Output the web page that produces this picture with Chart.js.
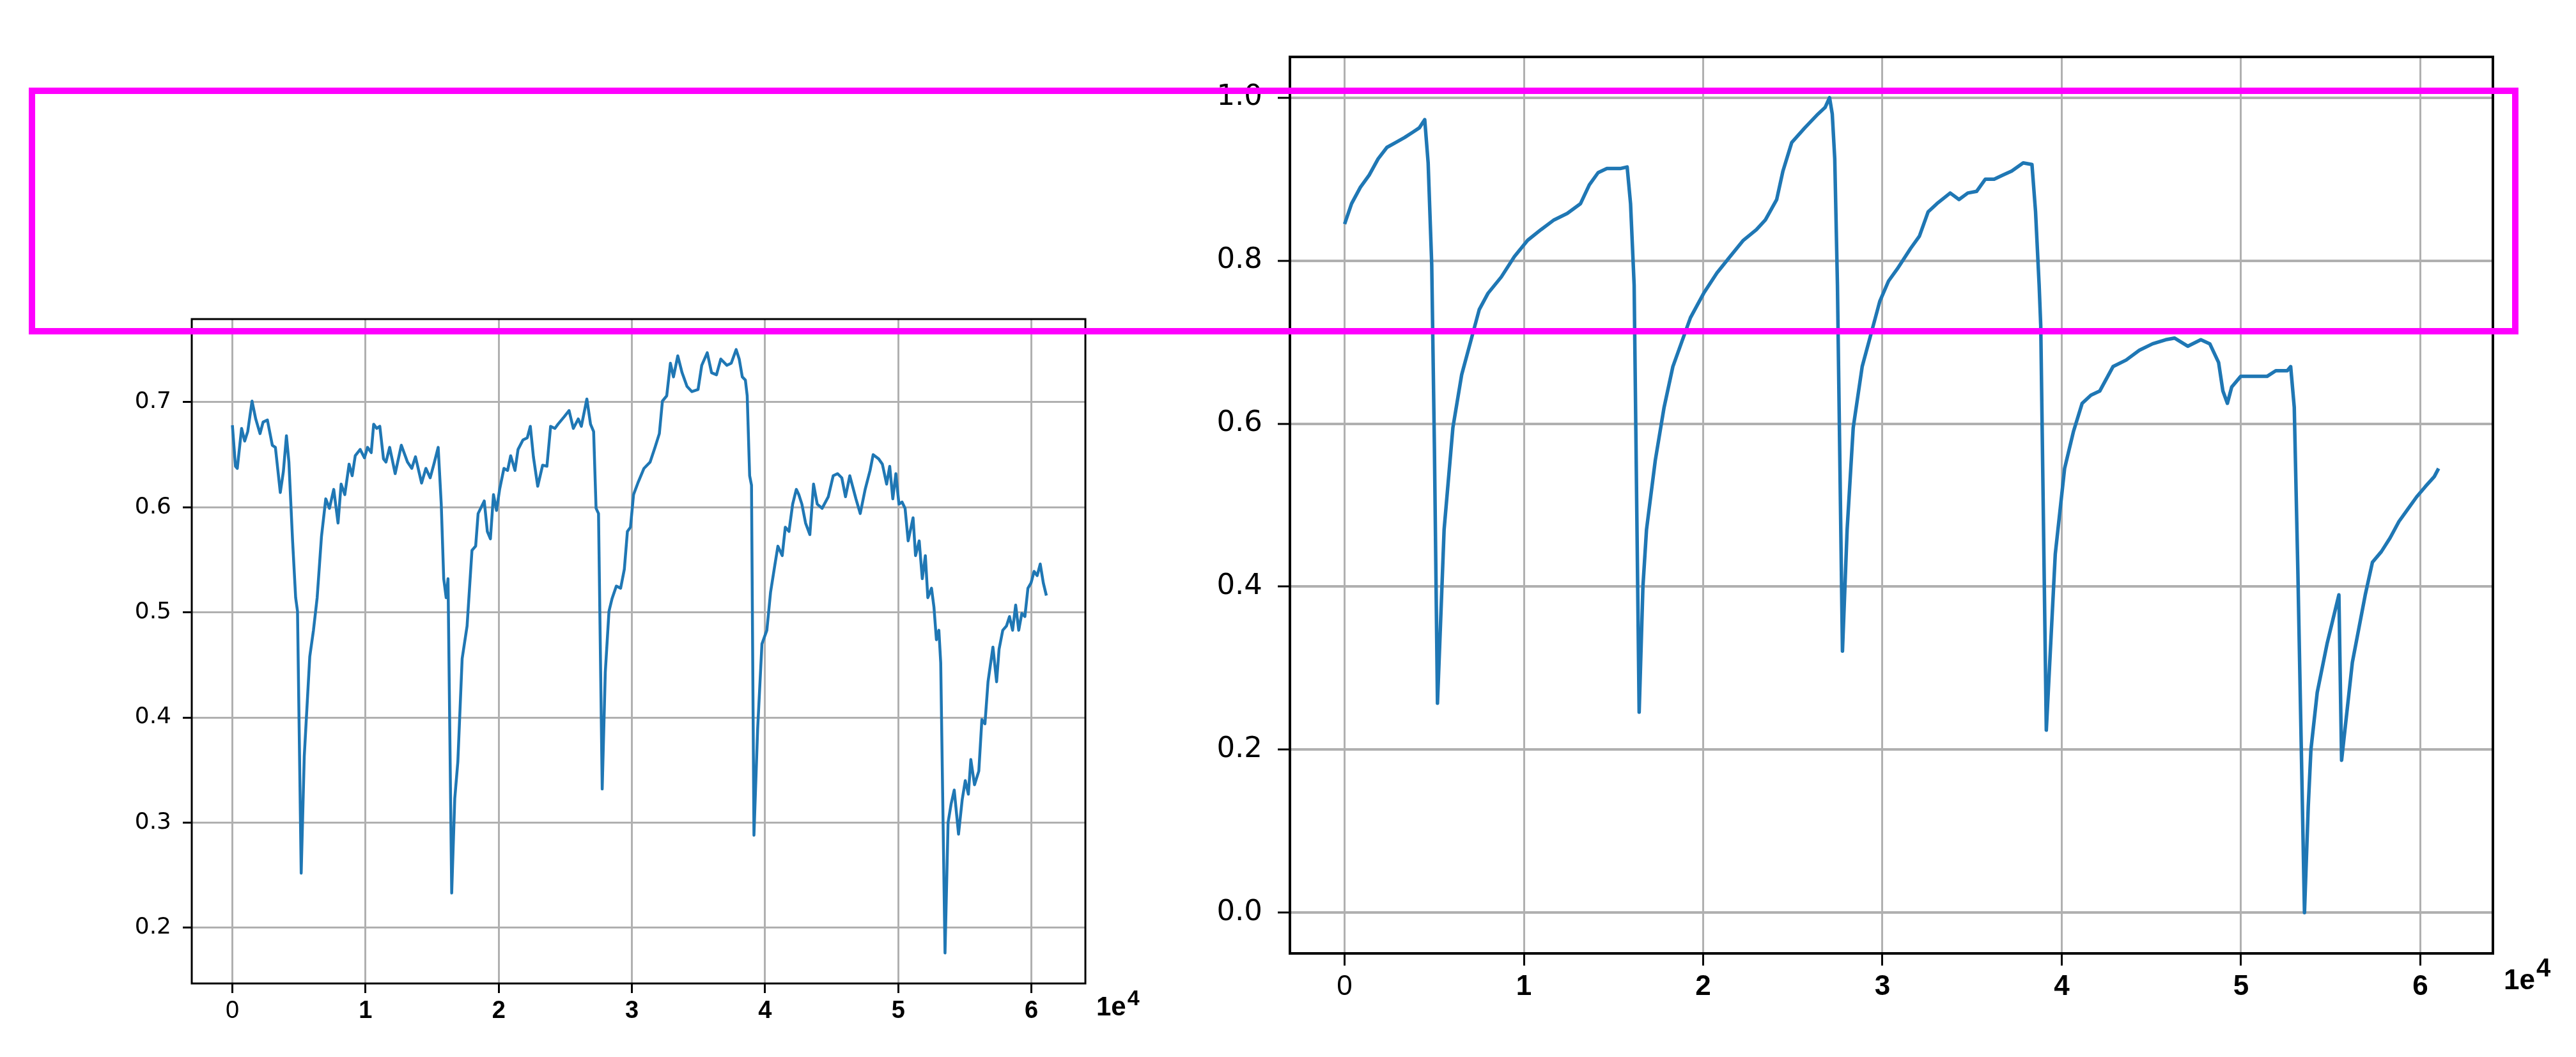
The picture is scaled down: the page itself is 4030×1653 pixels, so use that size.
<!DOCTYPE html>
<html>
<head>
<meta charset="utf-8">
<script src="https://cdn.jsdelivr.net/npm/chart.js@4.4.0/dist/chart.umd.min.js"></script>
<style>
  html, body { margin: 0; padding: 0; background: #fff; }
  body { width: 4030px; height: 1653px; position: relative; overflow: hidden; }
  .panel { position: absolute; }
  #left-wrap { left: 0; top: 440px; width: 1900px; height: 1213px; }
  #right-wrap { left: 1900px; top: 0; width: 2130px; height: 1653px; }
  #highlight { position: absolute; left: 45px; top: 137px; width: 3875px; height: 366px; border: 10px solid #ff00ff; z-index: 5; }
</style>
</head>
<body>
<div class="panel" id="left-wrap"><canvas id="leftChart" width="1900" height="1213"></canvas></div>
<div class="panel" id="right-wrap"><canvas id="rightChart" width="2130" height="1653"></canvas></div>
<div id="highlight"></div>
<script>
// x ticks shared by both panels (shown in units of 1e4)
const xTicks = [0, 10000, 20000, 30000, 40000, 50000, 60000];
const leftYTicks = [0.2, 0.3, 0.4, 0.5, 0.6, 0.7];
const rightYTicks = [0.0, 0.2, 0.4, 0.6, 0.8, 1.0];

// left panel: noisy series
const leftX = [
  0, 231, 369, 692, 923, 1153, 1476, 1753, 2076, 2306,
  2629, 2998, 3229, 3598, 3829, 4059, 4244, 4521, 4751, 4890,
  5167, 5397, 5812, 6089, 6366, 6689, 7012, 7289, 7611, 7934,
  8165, 8442, 8765, 8995, 9226, 9595, 9918, 10149, 10425, 10610,
  10841, 11071, 11348, 11533, 11809, 12224, 12686, 13147, 13470, 13747,
  14208, 14531, 14854, 15131, 15454, 15684, 15869, 16053, 16192, 16468,
  16699, 16930, 17253, 17622, 17991, 18267, 18452, 18913, 19144, 19375,
  19605, 19836, 20067, 20390, 20666, 20897, 21220, 21450, 21819, 22142,
  22373, 22604, 22927, 23296, 23619, 23895, 24218, 24449, 24910, 25279,
  25602, 25971, 26202, 26617, 26894, 27125, 27309, 27493, 27770, 28001,
  28278, 28508, 28831, 29154, 29431, 29662, 29892, 30123, 30446, 30907,
  31368, 31737, 32060, 32291, 32614, 32891, 33122, 33444, 33767, 34136,
  34505, 34967, 35243, 35658, 35981, 36350, 36673, 37135, 37458, 37827,
  38057, 38288, 38519, 38657, 38841, 38980, 39164, 39441, 39764, 40133,
  40410, 40733, 40963, 41286, 41517, 41794, 42071, 42347, 42532, 42763,
  43039, 43362, 43639, 43916, 44285, 44746, 45115, 45438, 45761, 46038,
  46361, 46822, 47145, 47514, 47883, 48114, 48529, 48806, 49128, 49359,
  49590, 49820, 50051, 50282, 50512, 50743, 51112, 51297, 51573, 51804,
  52035, 52219, 52496, 52680, 52865, 53050, 53188, 53511, 53741, 53972,
  54203, 54526, 54803, 55033, 55264, 55449, 55725, 56048, 56279, 56509,
  56740, 57109, 57385, 57570, 57847, 58124, 58354, 58585, 58816, 59046,
  59277, 59508, 59738, 59969, 60200, 60430, 60661, 60892, 61122
];
const leftY = [
  0.678, 0.639, 0.637, 0.675, 0.663, 0.672, 0.701, 0.684, 0.670, 0.681,
  0.683, 0.659, 0.657, 0.614, 0.634, 0.668, 0.643, 0.568, 0.514, 0.501,
  0.252, 0.363, 0.458, 0.483, 0.514, 0.572, 0.608, 0.599, 0.617, 0.585,
  0.622, 0.612, 0.641, 0.630, 0.649, 0.655, 0.647, 0.657, 0.652, 0.679,
  0.675, 0.677, 0.646, 0.643, 0.657, 0.632, 0.659, 0.643, 0.637, 0.648,
  0.623, 0.637, 0.628, 0.641, 0.657, 0.603, 0.532, 0.514, 0.532, 0.233,
  0.323, 0.358, 0.456, 0.487, 0.559, 0.563, 0.594, 0.606, 0.577, 0.570,
  0.612, 0.597, 0.617, 0.637, 0.635, 0.649, 0.635, 0.655, 0.664, 0.666,
  0.677, 0.648, 0.620, 0.640, 0.639, 0.677, 0.675, 0.679, 0.686, 0.692,
  0.675, 0.684, 0.677, 0.703, 0.679, 0.672, 0.599, 0.594, 0.332, 0.443,
  0.501, 0.513, 0.525, 0.523, 0.541, 0.577, 0.581, 0.612, 0.623, 0.637,
  0.643, 0.657, 0.670, 0.701, 0.706, 0.737, 0.724, 0.744, 0.728, 0.715,
  0.710, 0.712, 0.735, 0.747, 0.728, 0.726, 0.741, 0.735, 0.737, 0.750,
  0.741, 0.724, 0.721, 0.706, 0.630, 0.621, 0.288, 0.389, 0.470, 0.483,
  0.519, 0.545, 0.563, 0.554, 0.581, 0.577, 0.603, 0.617, 0.612, 0.603,
  0.585, 0.574, 0.622, 0.603, 0.599, 0.610, 0.630, 0.632, 0.628, 0.610,
  0.630, 0.608, 0.594, 0.617, 0.635, 0.650, 0.646, 0.641, 0.622, 0.639,
  0.608, 0.632, 0.603, 0.605, 0.599, 0.568, 0.590, 0.554, 0.568, 0.532,
  0.554, 0.514, 0.523, 0.505, 0.474, 0.483, 0.452, 0.176, 0.300, 0.318,
  0.331, 0.289, 0.322, 0.340, 0.327, 0.360, 0.336, 0.349, 0.398, 0.394,
  0.434, 0.467, 0.434, 0.465, 0.483, 0.487, 0.496, 0.483, 0.507, 0.483,
  0.499, 0.496, 0.523, 0.528, 0.539, 0.535, 0.546, 0.528, 0.516
];

// right panel: normalised sawtooth series
const rightX = [
  0, 390, 880, 1370, 1870, 2360, 2850, 3340, 3830, 4170,
  4470, 4660, 4860, 5010, 5180, 5430, 5550, 6040, 6530, 7020,
  7510, 8000, 8740, 9470, 10210, 10950, 11680, 12420, 13160, 13650,
  14140, 14630, 15370, 15760, 15950, 16150, 16430, 16640, 16840, 17330,
  17820, 18310, 18800, 19290, 20030, 20770, 21500, 22240, 22970, 23470,
  24100, 24450, 24940, 25670, 26410, 26800, 27050, 27200, 27340, 27490,
  27770, 28030, 28370, 28870, 29360, 29850, 30340, 30830, 31570, 32060,
  32550, 33040, 33780, 34270, 34760, 35250, 35740, 36230, 36720, 37210,
  37850, 38340, 38540, 38740, 38830, 39140, 39640, 40160, 40650, 41140,
  41630, 42120, 42860, 43590, 44330, 45070, 45800, 46290, 47030, 47760,
  48260, 48750, 48990, 49240, 49480, 49980, 50710, 51450, 51940, 52580,
  52770, 52970, 53170, 53540, 53750, 53900, 54250, 54800, 55460, 55610,
  56210, 56930, 57330, 57830, 58320, 58810, 59300, 59790, 60290, 60780,
  61020
];
const rightY = [
  0.845, 0.870, 0.890, 0.905, 0.925, 0.939, 0.945, 0.951, 0.958, 0.963,
  0.973, 0.920, 0.795, 0.570, 0.257, 0.400, 0.470, 0.595, 0.660, 0.700,
  0.740, 0.760, 0.780, 0.805, 0.825, 0.838, 0.850, 0.858, 0.870, 0.893,
  0.908, 0.913, 0.913, 0.915, 0.870, 0.770, 0.246, 0.400, 0.470, 0.555,
  0.620, 0.670, 0.700, 0.730, 0.760, 0.785, 0.805, 0.825, 0.838, 0.850,
  0.875, 0.910, 0.945, 0.963, 0.980, 0.988, 1.000, 0.980, 0.925, 0.770,
  0.321, 0.470, 0.595, 0.670, 0.710, 0.750, 0.775, 0.790, 0.815, 0.830,
  0.860, 0.870, 0.883, 0.875, 0.883, 0.885, 0.900, 0.900, 0.905, 0.910,
  0.920, 0.918, 0.860, 0.770, 0.720, 0.224, 0.440, 0.545, 0.590, 0.625,
  0.635, 0.640, 0.670, 0.678, 0.690, 0.698, 0.703, 0.705, 0.695, 0.703,
  0.698, 0.675, 0.640, 0.625, 0.645, 0.658, 0.658, 0.658, 0.665, 0.665,
  0.670, 0.620, 0.420, 0.000, 0.130, 0.200, 0.270, 0.330, 0.390, 0.187,
  0.307, 0.390, 0.430, 0.443, 0.460, 0.480, 0.495, 0.510, 0.523, 0.535,
  0.545
];

const X_MIN = -3050, X_MAX = 64050;
const LINE_COLOR = "#1f77b4";
const GRID_COLOR = "#b0b0b0";

// frame around the plot area + the "1e4" offset label
const framePlugin = {
  id: "frame",
  afterDatasetsDraw(chart, args, o) {
    const { ctx, chartArea: a } = chart;
    ctx.save();
    ctx.strokeStyle = "#000";
    ctx.lineWidth = o.width;
    ctx.strokeRect(a.left, a.top, a.right - a.left, a.bottom - a.top);
    ctx.fillStyle = "#000";
    ctx.textBaseline = "alphabetic";
    ctx.textAlign = "left";
    ctx.font = `bold ${o.baseSize}px "Liberation Sans", Arial, sans-serif`;
    const x0 = a.right + o.dx, y0 = a.bottom + o.dy;
    ctx.fillText("1e", x0, y0);
    const w = ctx.measureText("1e").width;
    ctx.font = `bold ${o.supSize}px "Liberation Sans", Arial, sans-serif`;
    ctx.fillText("4", x0 + w + 2, y0 - o.supRise);
    ctx.restore();
  }
};

function makeChart(id, xs, ys, cfg) {
  const pts = xs.map((x, i) => ({ x: x, y: ys[i] }));
  return new Chart(document.getElementById(id), {
    type: "line",
    data: {
      datasets: [{
        data: pts,
        borderColor: LINE_COLOR,
        borderWidth: cfg.lineWidth,
        borderJoinStyle: "round",
        pointRadius: 0,
        tension: 0,
        fill: false
      }]
    },
    plugins: [framePlugin],
    options: {
      responsive: false,
      animation: false,
      events: [],
      layout: { padding: cfg.padding },
      plugins: {
        legend: { display: false },
        tooltip: { enabled: false },
        frame: cfg.frame
      },
      scales: {
        x: {
          type: "linear",
          min: X_MIN,
          max: X_MAX,
          afterBuildTicks: (s) => { s.ticks = xTicks.map(v => ({ value: v })); },
          afterFit: (s) => { s.height = cfg.xAxisHeight; },
          border: { display: false },
          grid: { color: GRID_COLOR, lineWidth: cfg.vGrid, tickColor: "#000", tickLength: cfg.xTickLen, tickWidth: 3 },
          ticks: {
            color: "#000",
            padding: cfg.xPad,
            maxRotation: 0,
            autoSkip: false,
            font: (c) => ({
              family: "'Liberation Sans', Arial, sans-serif",
              size: cfg.xFont,
              weight: (c.tick && c.tick.value === 0) ? "normal" : "bold"
            }),
            callback: (v) => String(v / 10000)
          }
        },
        y: {
          type: "linear",
          min: cfg.yMin,
          max: cfg.yMax,
          afterBuildTicks: (s) => { s.ticks = cfg.yTicks.map(v => ({ value: v })); },
          afterFit: (s) => { s.width = cfg.yAxisWidth; },
          border: { display: false },
          grid: { color: GRID_COLOR, lineWidth: cfg.hGrid, tickColor: "#000", tickLength: cfg.yTickLen, tickWidth: 3 },
          ticks: {
            color: "#000",
            padding: cfg.yPad,
            autoSkip: false,
            font: { family: "'DejaVu Sans', sans-serif", size: cfg.yFont },
            callback: (v) => v.toFixed(1)
          }
        }
      }
    }
  });
}

// left panel: plot area 300..1698 x 499..1538 (page coords)
makeChart("leftChart", leftX, leftY, {
  lineWidth: 4.5,
  padding: { top: 59, right: 202, left: 0, bottom: 0 },
  xAxisHeight: 115,
  yAxisWidth: 300,
  yMin: 0.147, yMax: 0.779,
  yTicks: leftYTicks,
  vGrid: 3, hGrid: 3,
  xTickLen: 15, yTickLen: 14,
  xPad: 6, yPad: 18,
  xFont: 38, yFont: 36,
  frame: { width: 3, dx: 17, dy: 50, baseSize: 42, supSize: 34, supRise: 16 }
});

// right panel: plot area 2018..3900 x 89..1491 (page coords)
makeChart("rightChart", rightX, rightY, {
  lineWidth: 5.5,
  padding: { top: 89, right: 130, left: 0, bottom: 0 },
  xAxisHeight: 162,
  yAxisWidth: 118,
  yMin: -0.05, yMax: 1.05,
  yTicks: rightYTicks,
  vGrid: 3, hGrid: 4,
  xTickLen: 19, yTickLen: 19,
  xPad: 7, yPad: 24,
  xFont: 44, yFont: 45,
  frame: { width: 4, dx: 17, dy: 56, baseSize: 44, supSize: 40, supRise: 20 }
});
</script>
</body>
</html>
